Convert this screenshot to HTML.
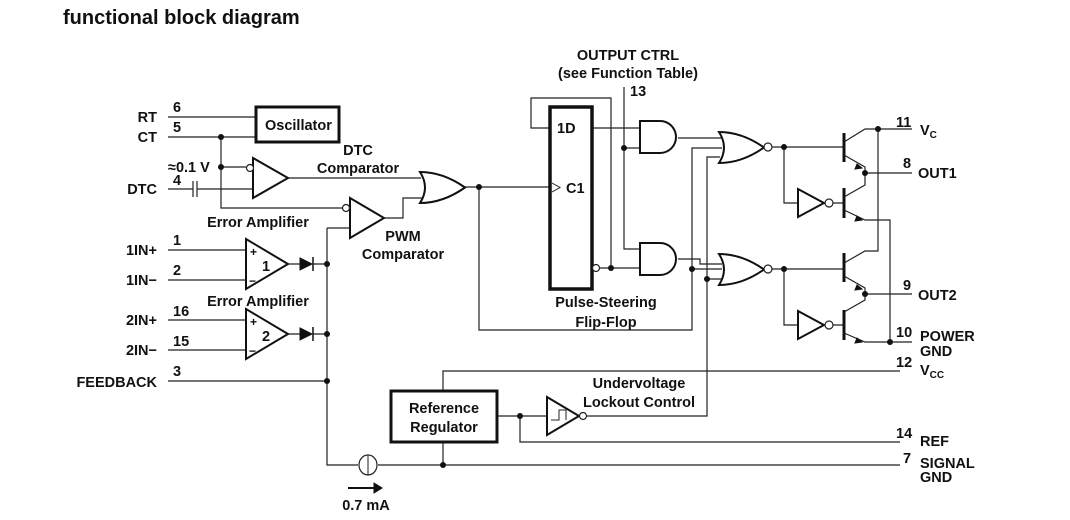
<!DOCTYPE html>
<html><head><meta charset="utf-8"><style>
html,body{margin:0;padding:0;background:#fff;width:1070px;height:520px;overflow:hidden}
svg{display:block}
text{font-family:"Liberation Sans",Arial,sans-serif;font-weight:bold;font-size:14.5px;fill:#111}
</style></head><body>
<svg width="1070" height="520" viewBox="0 0 1070 520">
<text x="63" y="24" style="font-size:20px">functional block diagram</text>
<g stroke="#222" stroke-width="1.2" fill="none">
<path d="M168 117H256M168 137H256M221 137V208H344M221 167H246M168 189H193M197 189H253M193 181V197M197 181V197"/>
<path d="M288 178H421M384 218H403V198H423M327 228H350M327 228V465H358M378 465H900"/>
<path d="M168 250H246M168 280H246M288 264H300M313 264H327M168 320H246M168 350H246M288 334H300M313 334H327M168 381H327"/>
<path d="M443 391V371H900M443 443V465M497 416H547M520 416V442H900M587 416H707V157H720M707 279H722"/>
<path d="M463 187H550M479 187V330H692V148H722M692 269H722M550 128H531V98H611V268M592 128H640M600 268H640M624 87V249H640M624 148H640M678 138H722M678 259H700V264H722"/>
<path d="M772 147H844M784 147V203H798M833 203H844M772 269H844M784 269V325H798M833 325H844"/>
<path d="M844 142L865 129H912M878 129V251H865L844 263M844 155L865 167V185L844 197M844 210L865 220H890V342H912M865 173H912M844 276L865 288V300L844 312M844 333L865 342H890M865 294H912"/>
</g>
<g stroke="#111" stroke-width="3" fill="none">
<path d="M844 133V162M844 188V218M844 253V282M844 310V340"/>
</g>
<rect x="256" y="107" width="83" height="35" fill="#fff" stroke="#111" stroke-width="3"/>
<text x="265" y="130">Oscillator</text>
<rect x="550" y="107" width="42" height="182" fill="#fff" stroke="#111" stroke-width="3.5"/>
<text x="557" y="133">1D</text>
<text x="566" y="193">C1</text>
<path d="M552 183L560 187.5L552 192" stroke="#222" fill="none"/>
<rect x="391" y="391" width="106" height="51" fill="#fff" stroke="#111" stroke-width="3"/>
<text x="444" y="413" text-anchor="middle">Reference</text>
<text x="444" y="432" text-anchor="middle">Regulator</text>
<g stroke="#111" stroke-width="2" fill="#fff">
<path d="M253 158L288 178L253 198Z"/>
<path d="M350 198L384 218L350 238Z"/>
<path d="M246 239L288 264L246 289Z"/>
<path d="M246 309L288 334L246 359Z"/>
<path d="M547 397L579 416L547 435Z"/>
<path d="M798 189L824 203L798 217Z"/>
<path d="M798 311L824 325L798 339Z"/>
<path d="M640 121H660A16 16 0 0 1 660 153H640Z"/>
<path d="M640 243H660A16 16 0 0 1 660 275H640Z"/>
<path d="M719 132Q742 132 764 147.5Q742 163 719 163Q729 147.5 719 132Z"/>
<path d="M719 254Q742 254 764 269.5Q742 285 719 285Q729 269.5 719 254Z"/>
<path d="M420 172Q443 172 465 187.5Q443 203 420 203Q430 187.5 420 172Z"/>
</g>
<path d="M551 420H559V410H566V420" stroke="#222" fill="none"/>
<g stroke="#222" stroke-width="1.2" fill="#fff">
<circle cx="250" cy="168" r="3.5"/><circle cx="346" cy="208" r="3.5"/>
<circle cx="596" cy="268" r="3.5"/><circle cx="768" cy="147" r="4"/><circle cx="768" cy="269" r="4"/>
<circle cx="829" cy="203" r="4"/><circle cx="829" cy="325" r="4"/><circle cx="583" cy="416" r="3.5"/>
<ellipse cx="368" cy="465" rx="9" ry="10"/>
</g>
<path d="M368 455V475" stroke="#222"/>
<text x="250" y="256" style="font-size:12px">+</text><text x="249" y="285" style="font-size:12px">−</text>
<text x="262" y="271">1</text>
<text x="250" y="326" style="font-size:12px">+</text><text x="249" y="355" style="font-size:12px">−</text>
<text x="262" y="341">2</text>
<g fill="#111" stroke="#111">
<path d="M300 258L312 264L300 270Z"/><path d="M313 257V271" stroke-width="1.5"/>
<path d="M300 328L312 334L300 340Z"/><path d="M313 327V341" stroke-width="1.5"/>
<path d="M857 164L862 168L855 169Z"/><path d="M857 216L862 220L855 221Z"/>
<path d="M857 285L862 289L855 290Z"/><path d="M857 338L862 342L855 343Z"/>
<path d="M348 488H374" stroke-width="2"/><path d="M374 483L382 488L374 493Z"/>
</g>
<g fill="#111">
<circle cx="221" cy="137" r="3"/><circle cx="221" cy="167" r="3"/><circle cx="479" cy="187" r="3"/>
<circle cx="327" cy="264" r="3"/><circle cx="327" cy="334" r="3"/><circle cx="327" cy="381" r="3"/>
<circle cx="443" cy="465" r="3"/><circle cx="520" cy="416" r="3"/>
<circle cx="611" cy="268" r="3"/><circle cx="624" cy="148" r="3"/><circle cx="692" cy="269" r="3"/><circle cx="707" cy="279" r="3"/>
<circle cx="784" cy="147" r="3"/><circle cx="784" cy="269" r="3"/>
<circle cx="878" cy="129" r="3"/><circle cx="865" cy="173" r="3"/><circle cx="865" cy="294" r="3"/><circle cx="890" cy="342" r="3"/>
</g>
<g text-anchor="end">
<text x="157" y="122">RT</text><text x="157" y="142">CT</text><text x="157" y="194">DTC</text>
<text x="157" y="255">1IN+</text><text x="157" y="285">1IN−</text>
<text x="157" y="325">2IN+</text><text x="157" y="355">2IN−</text><text x="157" y="387">FEEDBACK</text>
</g>
<text x="173" y="112">6</text><text x="173" y="132">5</text><text x="173" y="185">4</text>
<text x="168" y="172">≈0.1 V</text>
<text x="173" y="245">1</text><text x="173" y="275">2</text><text x="173" y="316">16</text><text x="173" y="346">15</text><text x="173" y="376">3</text>
<g text-anchor="middle">
<text x="358" y="155">DTC</text><text x="358" y="173">Comparator</text>
<text x="258" y="227">Error Amplifier</text><text x="258" y="306">Error Amplifier</text>
<text x="403" y="241">PWM</text><text x="403" y="259">Comparator</text>
<text x="606" y="307">Pulse-Steering</text><text x="606" y="327">Flip-Flop</text>
<text x="628" y="60">OUTPUT CTRL</text><text x="628" y="78">(see Function Table)</text>
<text x="639" y="388">Undervoltage</text><text x="639" y="407">Lockout Control</text>
<text x="366" y="510">0.7 mA</text>
</g>
<text x="630" y="96">13</text>
<text x="896" y="127">11</text><text x="920" y="135">V<tspan style="font-size:10px" dy="3">C</tspan></text>
<text x="903" y="168">8</text><text x="918" y="178">OUT1</text>
<text x="903" y="290">9</text><text x="918" y="300">OUT2</text>
<text x="896" y="337">10</text><text x="920" y="341">POWER</text><text x="920" y="356">GND</text>
<text x="896" y="367">12</text><text x="920" y="375">V<tspan style="font-size:10px" dy="3">CC</tspan></text>
<text x="896" y="438">14</text><text x="920" y="446">REF</text>
<text x="903" y="463">7</text><text x="920" y="468">SIGNAL</text><text x="920" y="482">GND</text>
</svg>
</body></html>
